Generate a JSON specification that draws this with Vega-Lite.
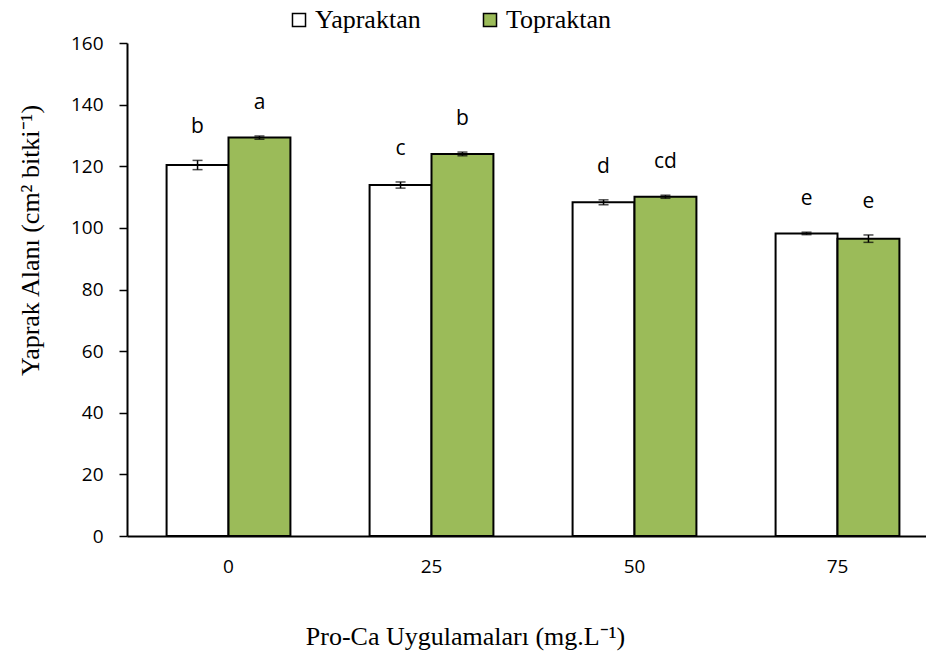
{
  "$schema": "https://vega.github.io/schema/vega-lite/v6.json",
  "autosize": "none",
  "width": 812,
  "height": 493,
  "padding": {"left": 127, "top": 43, "right": 0, "bottom": 118},
  "background": "white",
  "config": {
    "view": {"stroke": null},
    "axis": {"grid": false, "domainColor": "black", "domainWidth": 2, "tickColor": "black", "tickWidth": 1.5, "labelFont": "Open Sans", "labelFontSize": 19, "labelColor": "black", "titleFont": "Liberation Serif", "titleFontSize": 26, "titleFontWeight": "normal", "titleColor": "black"}
  },
  "data": {"values": [
    {"dose": "0", "group": "Yapraktan", "value": 120.4, "lo": 118.9, "hi": 121.9, "letter": "b"},
    {"dose": "0", "group": "Topraktan", "value": 129.3, "lo": 128.8, "hi": 129.8, "letter": "a"},
    {"dose": "25", "group": "Yapraktan", "value": 113.9, "lo": 112.9, "hi": 114.9, "letter": "c"},
    {"dose": "25", "group": "Topraktan", "value": 124.0, "lo": 123.4, "hi": 124.6, "letter": "b"},
    {"dose": "50", "group": "Yapraktan", "value": 108.3, "lo": 107.5, "hi": 109.1, "letter": "d"},
    {"dose": "50", "group": "Topraktan", "value": 110.1, "lo": 109.6, "hi": 110.6, "letter": "cd"},
    {"dose": "75", "group": "Yapraktan", "value": 98.2, "lo": 97.8, "hi": 98.6, "letter": "e"},
    {"dose": "75", "group": "Topraktan", "value": 96.5, "lo": 95.3, "hi": 97.7, "letter": "e"}
  ]},
  "encoding": {
    "x": {"field": "dose", "type": "nominal", "sort": ["0", "25", "50", "75"],
      "scale": {"paddingInner": 0.39, "paddingOuter": 0.195},
      "axis": {"title": "Pro-Ca Uygulamaları (mg.L⁻¹)", "labelAngle": 0, "ticks": false, "labelPadding": 21, "titleX": 338, "titleY": 100, "titleAlign": "center", "titleBaseline": "middle"}},
    "xOffset": {"field": "group", "type": "nominal", "sort": ["Yapraktan", "Topraktan"]}
  },
  "layer": [
    {
      "mark": {"type": "bar", "stroke": "black", "strokeWidth": 2},
      "encoding": {
        "y": {"field": "value", "type": "quantitative", "scale": {"domain": [0, 160]},
          "axis": {"title": "Yaprak Alanı (cm² bitki⁻¹)", "values": [0, 20, 40, 60, 80, 100, 120, 140, 160], "tickSize": 8, "labelPadding": 16, "titleX": -97, "titleY": 197, "titleAngle": -90, "titleAlign": "center", "titleBaseline": "middle"}},
        "fill": {"field": "group", "type": "nominal", "sort": ["Yapraktan", "Topraktan"],
          "scale": {"domain": ["Yapraktan", "Topraktan"], "range": ["#FFFFFF", "#9BBB59"]},
          "legend": {"title": null, "orient": "none", "legendX": 159, "legendY": -36, "direction": "horizontal", "symbolType": "square", "symbolSize": 170, "symbolStrokeColor": "black", "symbolStrokeWidth": 1.5, "labelFont": "Liberation Serif", "labelFontSize": 26, "labelColor": "black", "labelOffset": 3, "columnPadding": 56}}
      }
    },
    {
      "mark": {"type": "rule", "color": "black", "strokeWidth": 1.5},
      "encoding": {"y": {"field": "lo", "type": "quantitative"}, "y2": {"field": "hi"}}
    },
    {
      "mark": {"type": "tick", "color": "black", "size": 10, "thickness": 1.5},
      "encoding": {"y": {"field": "lo", "type": "quantitative"}}
    },
    {
      "mark": {"type": "tick", "color": "black", "size": 10, "thickness": 1.5},
      "encoding": {"y": {"field": "hi", "type": "quantitative"}}
    },
    {
      "mark": {"type": "text", "font": "Open Sans", "fontSize": 21, "color": "black", "baseline": "middle", "dy": -33},
      "encoding": {"y": {"field": "hi", "type": "quantitative"}, "text": {"field": "letter"}}
    }
  ]
}
